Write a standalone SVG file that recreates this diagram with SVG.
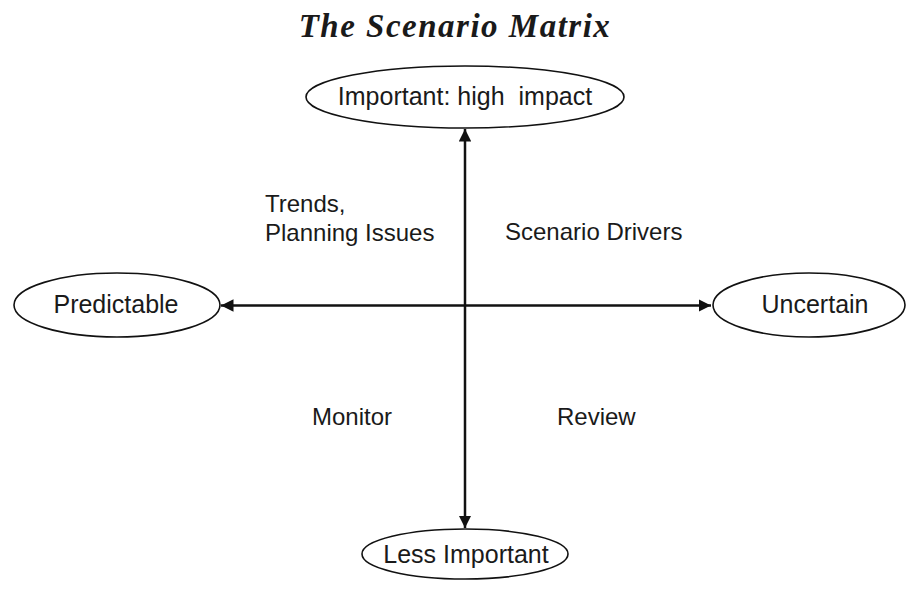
<svg xmlns="http://www.w3.org/2000/svg" width="907" height="592" viewBox="0 0 907 592">
<style>
.node ellipse{fill:#fff;stroke:#111;stroke-width:1.6}
.lbl{font-family:"Liberation Sans",Arial,sans-serif;font-size:24px;fill:#1a1a1a}
.nl{font-size:25px;text-anchor:middle}
.title{font-family:"Liberation Serif","Times New Roman",serif;font-size:33px;font-weight:bold;font-style:italic;letter-spacing:1.5px;fill:#1a1a1a;text-anchor:middle}
.conn line{stroke:#111;stroke-width:2.5}
</style>
<defs>
<marker id="ah" viewBox="0 0 10 10" refX="10" refY="5" markerWidth="5" markerHeight="5" orient="auto-start-reverse" markerUnits="strokeWidth">
<path d="M0,0 L10,5 L0,10 z" fill="#111"/>
</marker>
</defs>
<rect width="907" height="592" fill="#fff"/>
<text class="title" x="455" y="37">The Scenario Matrix</text>
<g class="conn">
<line x1="465" y1="129" x2="465" y2="528" marker-start="url(#ah)" marker-end="url(#ah)"/>
<line x1="221" y1="305.5" x2="711" y2="305.5" marker-start="url(#ah)" marker-end="url(#ah)"/>
</g>
<g id="important" class="node">
<ellipse cx="465" cy="97" rx="159" ry="31"/>
<text class="lbl nl" x="465" y="105" xml:space="preserve">Important: high  impact</text>
</g>
<g id="predictable" class="node">
<ellipse cx="117" cy="305" rx="103" ry="32"/>
<text class="lbl nl" x="116" y="313">Predictable</text>
</g>
<g id="uncertain" class="node">
<ellipse cx="809" cy="305" rx="96" ry="32"/>
<text class="lbl nl" x="815" y="313">Uncertain</text>
</g>
<g id="less" class="node">
<ellipse cx="465" cy="554" rx="103" ry="25"/>
<text class="lbl nl" x="466" y="563">Less Important</text>
</g>
<g id="quadrants">
<text class="lbl" x="265" y="212">Trends,</text>
<text class="lbl" x="265" y="241">Planning Issues</text>
<text class="lbl" x="505" y="240">Scenario Drivers</text>
<text class="lbl" x="312" y="425">Monitor</text>
<text class="lbl" x="557" y="425">Review</text>
</g>
</svg>
